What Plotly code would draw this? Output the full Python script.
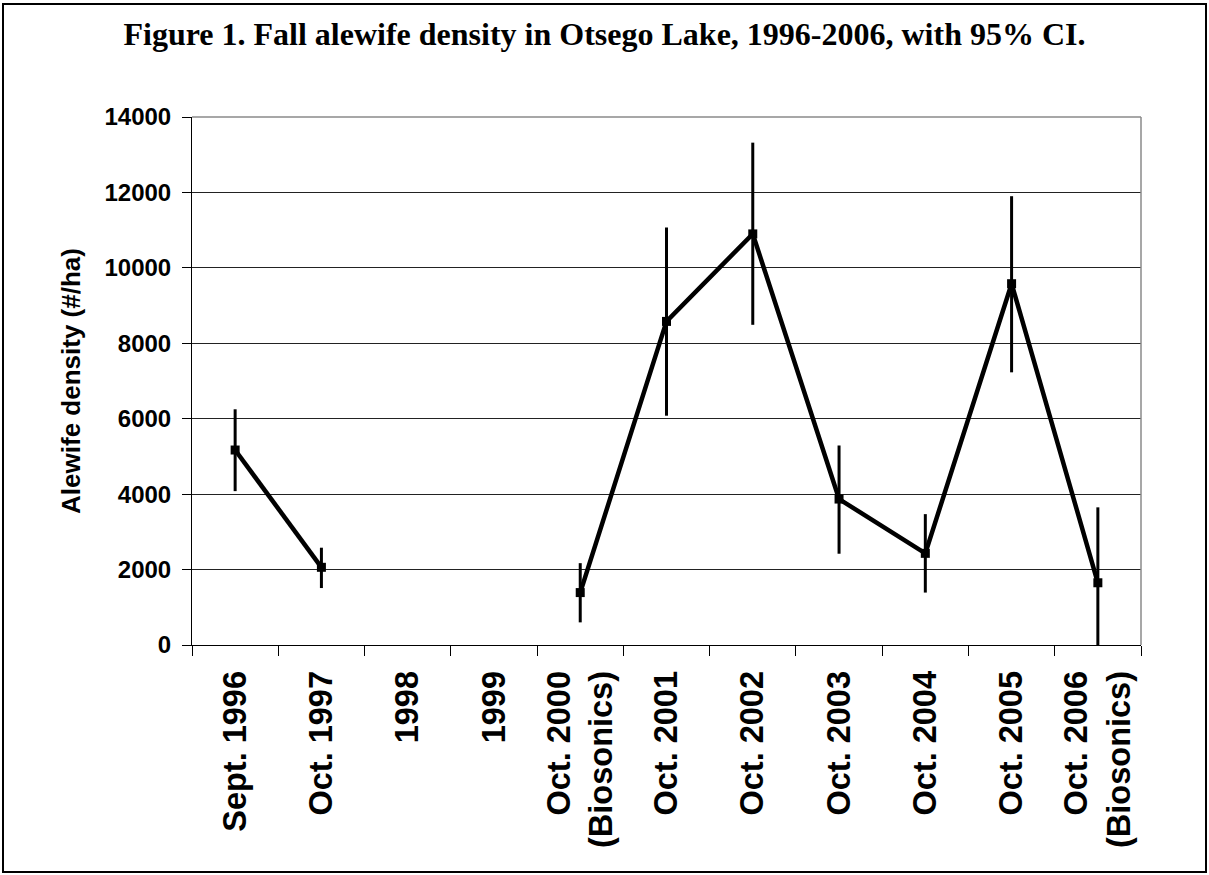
import plotly.graph_objects as go

# ---- data ----
categories = [
    "Sept. 1996", "Oct. 1997", "1998", "1999",
    "Oct. 2000<br>(Biosonics)", "Oct. 2001", "Oct. 2002", "Oct. 2003",
    "Oct. 2004", "Oct. 2005", "Oct. 2006<br>(Biosonics)",
]
density = [5170, 2060, None, None, 1390, 8580, 10900, 3870, 2430, 9580, 1650]
ci_plus = [1080, 520, 0, 0, 780, 2490, 2420, 1420, 1040, 2320, 2000]
ci_minus = [1090, 550, 0, 0, 790, 2500, 2410, 1450, 1040, 2350, 1770]

y_ticks = [0, 2000, 4000, 6000, 8000, 10000, 12000, 14000]
y_ticktext = ["0", "2000", "4000", "6000", "8000", "10000", "12000", "14000"]

title_text = "Figure 1. Fall alewife density in Otsego Lake, 1996-2006, with 95% CI."
y_title = "Alewife density (#/ha)"

SANS = "Liberation Sans, Arial, sans-serif"
SERIF = "Liberation Serif, Times New Roman, serif"

fig = go.Figure()
fig.add_trace(go.Scatter(
    x=categories, y=density,
    mode="lines+markers",
    connectgaps=False,
    line=dict(color="black", width=4.5),
    marker=dict(symbol="square", size=9, color="black"),
    error_y=dict(type="data", symmetric=False, array=ci_plus, arrayminus=ci_minus,
                 color="black", thickness=3, width=0),
    hoverinfo="x+y",
))

W, H = 1209, 875
# plot area on screen: x 192..1141, y 117..645
ml, mt = 192, 117
mr = W - 1141
mb = H - 645
pw, ph = W - ml - mr, H - mt - mb


def px_to_paper_x(px):
    return (px - ml) / pw


def px_to_paper_y(py):
    return (H - mb - py) / ph


fig.update_layout(
    width=W, height=H,
    margin=dict(l=ml, r=mr, t=mt, b=mb),
    paper_bgcolor="white", plot_bgcolor="white",
    showlegend=False,
    title=dict(text=title_text, x=604.5 / W, xref="container", xanchor="center",
               y=1 - 34 / H, yref="container", yanchor="middle",
               font=dict(family=SERIF, size=32, color="black", weight="bold")),
    xaxis=dict(
        type="category",
        range=[-0.5, len(categories) - 0.5],
        tickson="boundaries",
        ticks="outside", ticklen=10, tickcolor="black", tickwidth=1,
        showline=True, linecolor="black", linewidth=1,
        showgrid=False,
        tickangle=-90,
        ticklabelstandoff=12,
        tickfont=dict(family=SANS, size=32.5, color="black", weight="bold"),
    ),
    yaxis=dict(
        range=[0, 14000],
        tickvals=y_ticks,
        ticktext=y_ticktext,
        ticks="outside", ticklen=9, tickcolor="black", tickwidth=1,
        showline=True, linecolor="black", linewidth=1,
        showgrid=True, gridcolor="#222222", gridwidth=1,
        zeroline=False,
        ticklabelstandoff=6,
        tickfont=dict(family=SANS, size=24, color="black", weight="bold"),
        title=dict(text=y_title, standoff=16,
                   font=dict(family=SANS, size=26, color="black", weight="bold")),
    ),
    shapes=[
        dict(type="line", xref="paper", yref="paper", x0=0, x1=1, y0=1, y1=1,
             line=dict(color="#8a8a8a", width=1.5), layer="above"),
        dict(type="line", xref="paper", yref="paper", x0=1, x1=1, y0=0, y1=1,
             line=dict(color="#8a8a8a", width=1.5), layer="above"),
        dict(type="rect", xref="paper", yref="paper",
             x0=px_to_paper_x(3), x1=px_to_paper_x(1206),
             y0=px_to_paper_y(872), y1=px_to_paper_y(4),
             line=dict(color="black", width=2), layer="above"),
    ],
)

# remove the default page margin so the figure sits at the window's top-left corner
fig.write_html("out.html", config={"displayModeBar": False},
               post_script="document.body.style.margin='0';")
